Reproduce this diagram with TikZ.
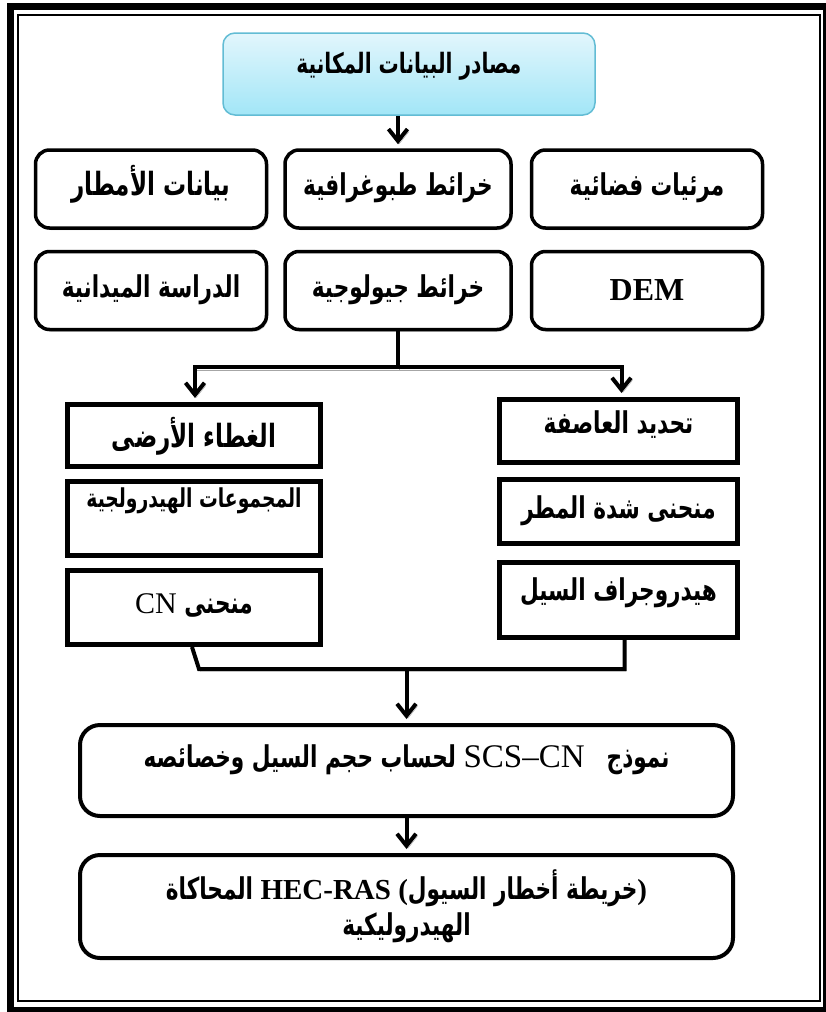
\documentclass[tikz,border=0pt]{standalone}
\usepackage{fontspec}
\setmainfont{Liberation Serif}
\newfontfamily\arfont[Script=Arabic,FakeStretch=0.72]{DejaVu Sans}
\TeXXeTstate=1
\usetikzlibrary{positioning,arrows.meta,shadows}
\definecolor{skytop}{HTML}{E2F6FC}
\definecolor{skybot}{HTML}{A2E6F7}
\definecolor{skyline}{HTML}{62BCD4}
\newcommand{\arb}[1]{{\arfont\bfseries\beginR #1\endR}}

\begin{document}
\begin{tikzpicture}[x=1pt, y=-1pt,
    font=\fontsize{30}{36}\selectfont,
    topbox/.style={draw=skyline, line width=1.5pt, rounded corners=12pt,
      top color=skytop, bottom color=skybot, minimum width=372pt, minimum height=82pt,
      text height=22pt, text depth=24pt},
    srcbox/.style={draw, line width=3.5pt, rounded corners=14pt, fill=white,
      minimum width=231pt, minimum height=78pt, inner ysep=0pt,
      text height=32pt, text depth=8pt,
      drop shadow={shadow xshift=1.5pt, shadow yshift=-2pt, fill=black!45}},
    midbox/.style={draw, line width=5pt, fill=white, minimum width=253pt,
      inner ysep=0pt, text height=32pt, text depth=8pt},
    endbox/.style={draw, line width=4pt, rounded corners=20pt, fill=white,
      minimum width=653pt, align=center},
    link/.style={line width=4pt,
      preaction={draw=black!35, transform canvas={shift={(1.5pt,-2.5pt)}}}},
    flow/.style={link, -{Straight Barb[length=12pt, width=19pt]}, shorten >=4pt}]

  % double frame
  \useasboundingbox (0,0) rectangle (826,1012);
  \draw[line width=7pt] (10.5,6) rectangle (826.5,1010.5);
  \draw[line width=2pt] (17.5,15) rectangle (820,1001);

  % sources
  \node[topbox] (src) at (409,74) {\fontsize{28}{34}\selectfont\arb{مصادر البيانات المكانية}};

  \node[srcbox, minimum width=226pt, text depth=20pt] (topo) at (398,189) {\arb{خرائط طبوغرافية}};
  \node[srcbox, text depth=20pt] (rain) [left=15pt of topo]
    {\fontsize{32}{36}\selectfont\arb{بيانات الأمطار}};
  \node[srcbox, text depth=20pt] (sat) [right=17pt of topo] {\arb{مرئيات فضائية}};

  \node[srcbox, minimum width=226pt, text depth=18pt] (geo) [below=20pt of topo] {\arb{خرائط جيولوجية}};
  \node[srcbox, text depth=18pt] (field) [below=20pt of rain] {\arb{الدراسة الميدانية}};
  \node[srcbox, text depth=12pt] (dem) [below=20pt of sat] {\fontsize{32}{36}\selectfont\textbf{DEM}};

  % left branch
  \node[midbox, minimum height=62pt] (land) at (194,435.5)
    {\fontsize{32}{36}\selectfont\arb{الغطاء الأرضى}};
  \node[midbox, minimum height=74pt, text height=10pt, text depth=32pt] (hydgrp) [below=10pt of land]
    {\fontsize{26}{30}\selectfont\arb{المجموعات الهيدرولجية}};
  \node[midbox, minimum height=74pt, text depth=20pt] (cn) [below=10pt of hydgrp]
    {CN \arb{منحنى}};

  % right branch
  \node[midbox, minimum width=238pt, minimum height=63pt, text depth=28pt] (storm) at (618.5,431)
    {\arb{تحديد العاصفة}};
  \node[midbox, minimum width=238pt, minimum height=64pt, text depth=18pt] (rainint) [below=12pt of storm]
    {\arb{منحنى شدة المطر}};
  \node[midbox, minimum width=238pt, minimum height=75pt, text depth=32pt] (hydro) [below=14pt of rainint]
    {\arb{هيدروجراف السيل}};

  % model and result
  \node[endbox, minimum height=91pt, text height=22pt, text depth=28pt] (model) at (406.5,770.5)
    {\arb{لحساب حجم السيل وخصائصه} {\fontsize{33}{36}\selectfont SCS–CN}\hspace{22pt}\arb{نموذج}};
  \node[endbox, minimum height=103pt] (hazard) [below=35pt of model]
    {\arb{المحاكاة} {\fontsize{29}{34}\selectfont\textbf{HEC-RAS (}}\arb{خريطة أخطار السيول}{\fontsize{29}{34}\selectfont\textbf{)}}\\
     \arb{الهيدروليكية}};

  % connectors
  \draw[flow] (src.south -| topo) -- (topo.north);
  \coordinate[below=36pt of geo] (fork);
  \draw[link] (geo) -- (fork);
  \draw[flow] (fork) -| ([xshift=1pt]land.north);
  \draw[flow] (fork) -| ([xshift=3pt]storm.north);
  \draw[link] ([xshift=-2pt]cn.south) -- ++(7,22) coordinate (joinl) -| ([xshift=6pt]hydro.south);
  \draw[flow] (joinl -| model.north) -- (model.north);
  \draw[flow] (model) -- (hazard);
\end{tikzpicture}
\end{document}
